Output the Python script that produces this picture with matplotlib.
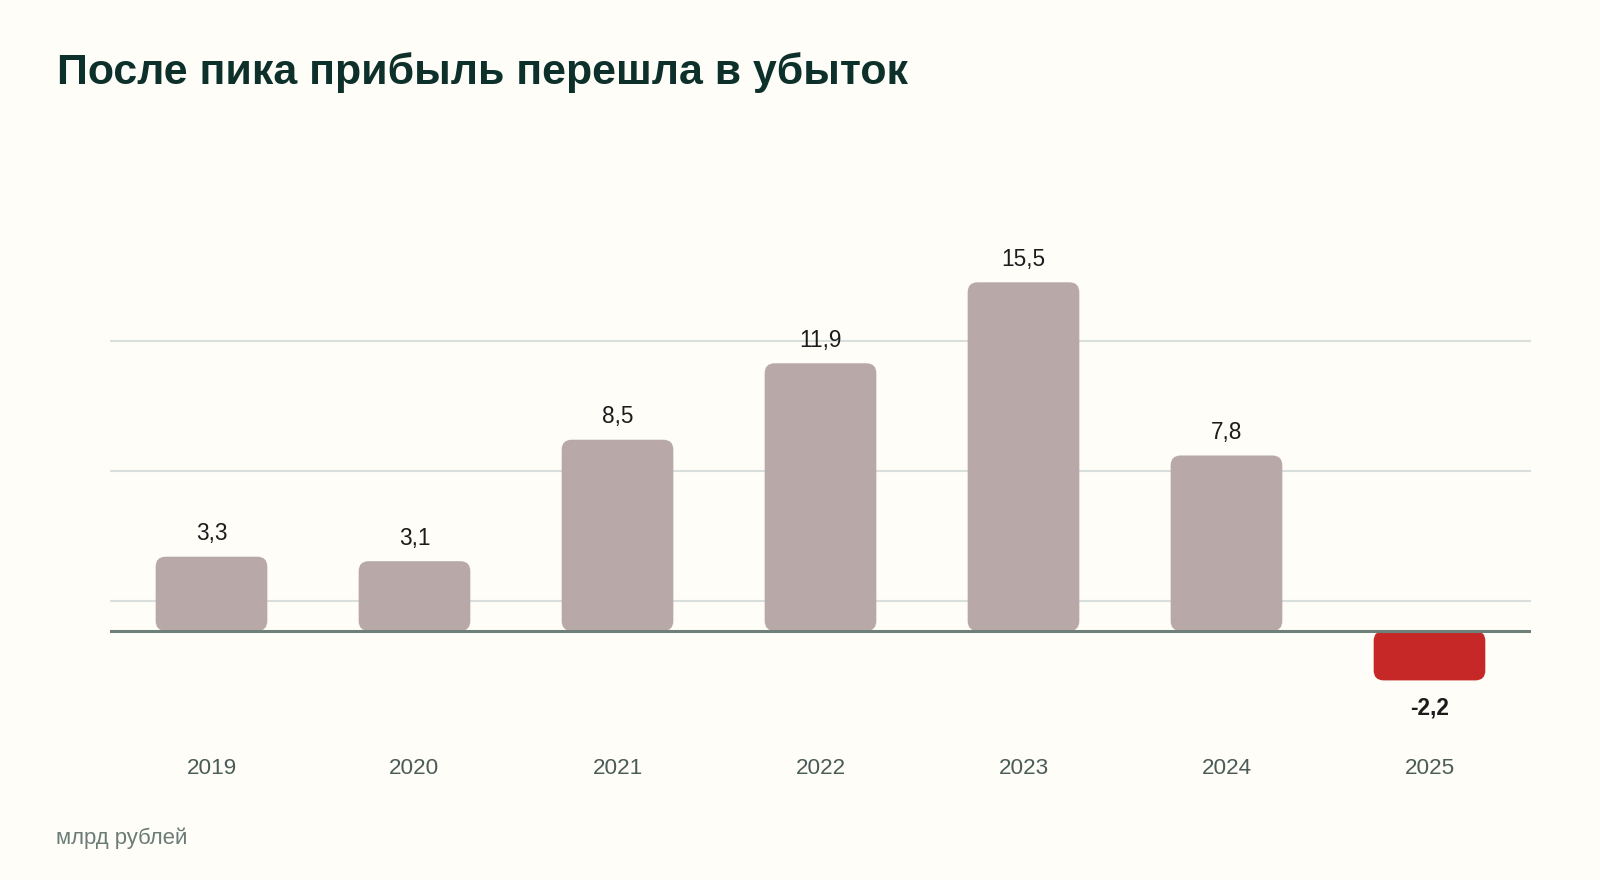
import matplotlib.pyplot as plt
from matplotlib.patches import FancyBboxPatch
import numpy as np

plt.rcParams['font.family'] = ['Liberation Sans', 'DejaVu Sans']

# Data
years = ['2019', '2020', '2021', '2022', '2023', '2024', '2025']
profit = [3.3, 3.1, 8.5, 11.9, 15.5, 7.8, -2.2]
labels = ['3,3', '3,1', '8,5', '11,9', '15,5', '7,8', '-2,2']

title = 'После пика прибыль перешла в убыток'
unit_note = 'млрд рублей'

bg = '#fefdf8'
bar_color = '#b8a9a8'
neg_color = '#c62828'

W, H, DPI = 16, 8.8, 100
fig = plt.figure(figsize=(W, H), dpi=DPI, facecolor=bg)

# axes placed in pixel terms of the 1600x880 canvas
left_px, right_px, top_px, bottom_px = 110, 1531, 211, 731
ax = fig.add_axes([left_px / 1600, 1 - bottom_px / 880,
                   (right_px - left_px) / 1600, (bottom_px - top_px) / 880])
ax.set_facecolor(bg)

ymin, ymax = -4.45, 18.67
ax.set_xlim(-0.5, len(years) - 0.5)
ax.set_ylim(ymin, ymax)

# gridlines at interior quarter marks of the axis range
for g in np.linspace(ymin, ymax, 5)[1:-1]:
    ax.axhline(g, color='#d9dfdc', lw=1.5, zorder=0)
ax.axhline(0, color='#6f807a', lw=2.2, zorder=3)

x = np.arange(len(years))
bw = 0.55
bars = ax.bar(x, profit, width=bw, color='none')

# rounded corners: radius ~10px
px_x = (right_px - left_px) / len(years)
px_y = (bottom_px - top_px) / (ymax - ymin)
rx = 10 / px_x
aspect = (10 / px_y) / rx
for b, v in zip(bars, profit):
    b.set_visible(False)
    y0 = min(0, v)
    patch = FancyBboxPatch((b.get_x(), y0), b.get_width(), abs(v),
                           boxstyle=f'round,pad=0,rounding_size={rx}',
                           mutation_aspect=aspect,
                           facecolor=neg_color if v < 0 else bar_color,
                           edgecolor='none', zorder=2)
    ax.add_patch(patch)

for xi, v, lab in zip(x, profit, labels):
    if v >= 0:
        ax.annotate(lab, (xi, v), xytext=(0, 12), textcoords='offset points',
                    ha='center', va='baseline', fontsize=16.3, color='#1c1c1c')
    else:
        ax.annotate(lab, (xi, v), xytext=(0, -11.5), textcoords='offset points',
                    ha='center', va='top', fontsize=16.3, color='#1c1c1c',
                    fontweight='bold')

ax.set_xticks(x)
ax.set_xticklabels(years, fontsize=16.2, color='#4b5b58')
ax.tick_params(axis='x', length=0, pad=19.5)
ax.set_yticks([])
for s in ax.spines.values():
    s.set_visible(False)

fig.text(57 / 1600, 1 - 84.3 / 880, title, fontsize=30.9, fontweight='bold',
         color='#0d302b', ha='left', va='baseline')
fig.text(56 / 1600, 1 - 844 / 880, unit_note, fontsize=15.9,
         color='#6b7b78', ha='left', va='baseline')

fig.savefig('out.png', dpi=DPI, facecolor=bg)
